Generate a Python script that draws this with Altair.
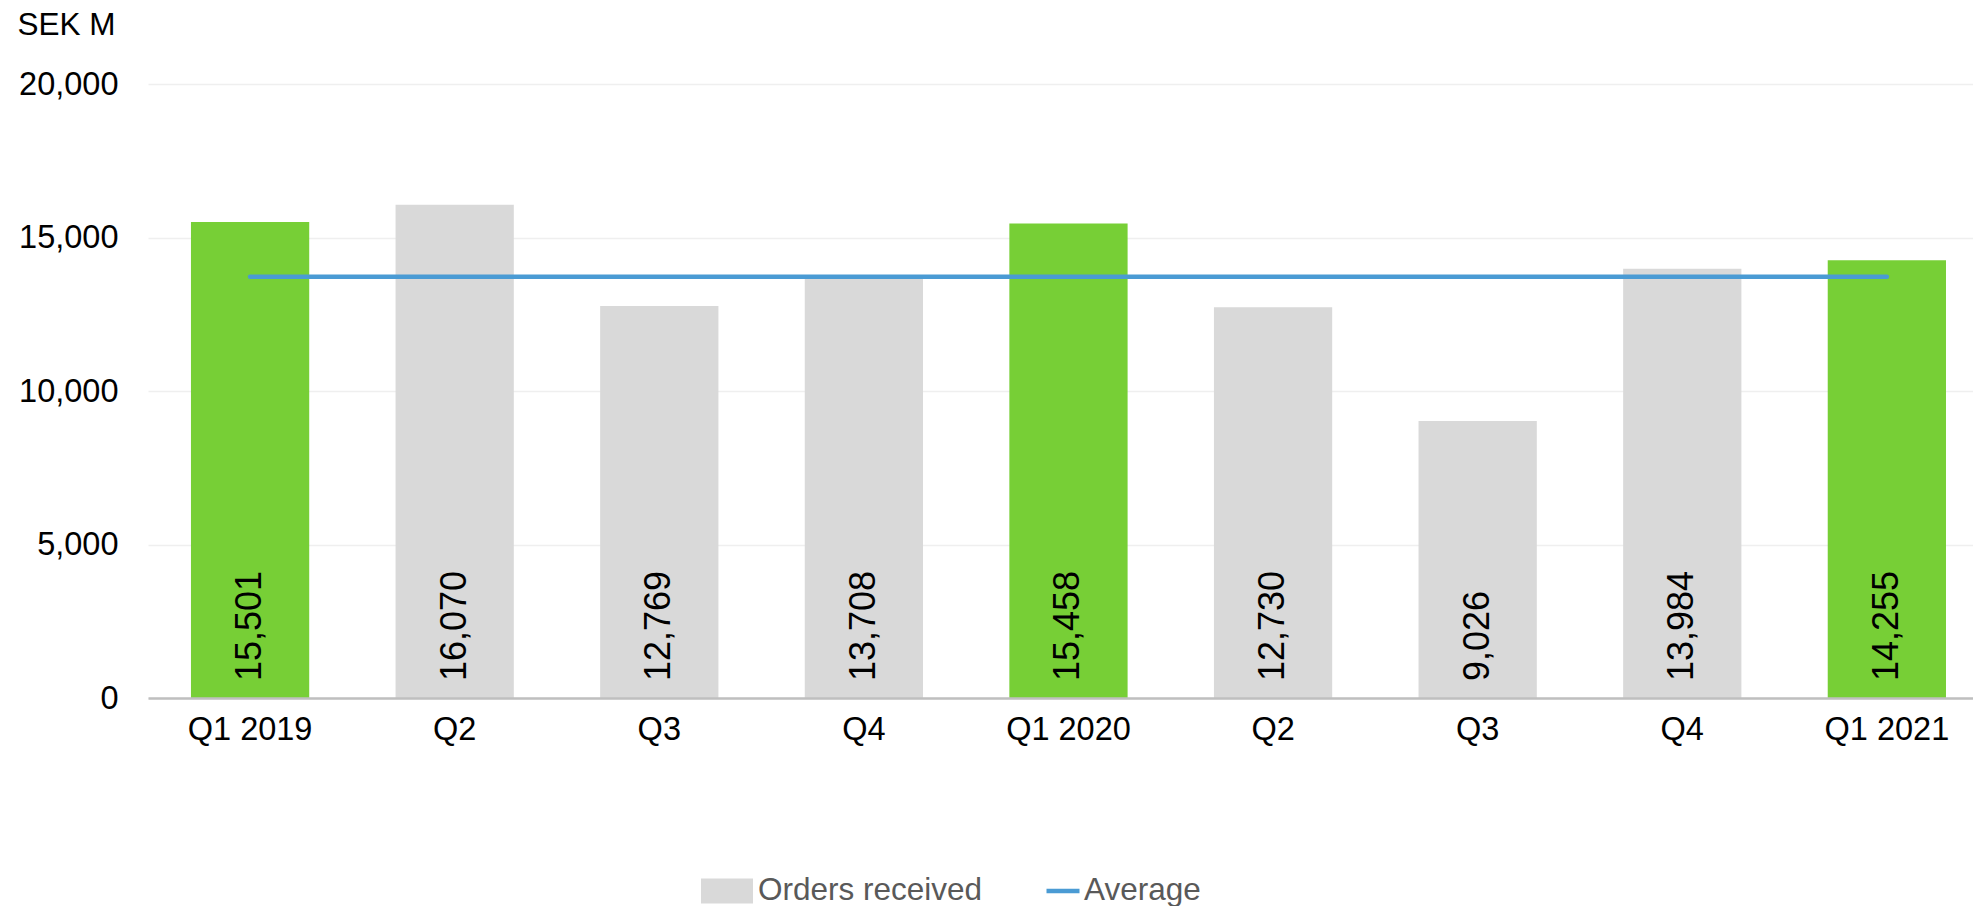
import json
import altair as alt
import pandas as pd

FONT = "Liberation Sans, Arial, sans-serif"
GREEN = "#77CF36"
GRAY = "#D9D9D9"
BLUE = "#4A9BD4"

quarter_labels = ["Q1 2019", "Q2", "Q3", "Q4", "Q1 2020", "Q2", "Q3", "Q4", "Q1 2021"]
orders = [15501, 16070, 12769, 13708, 15458, 12730, 9026, 13984, 14255]
is_q1 = [True, False, False, False, True, False, False, False, True]
y_ticks = [0, 5000, 10000, 15000, 20000]

df = pd.DataFrame({
    "idx": list(range(len(orders))),
    "orders": orders,
    "q1": is_q1,
    "series": ["Orders received"] * len(orders),
})

label_expr = json.dumps(quarter_labels) + "[datum.value]"

x_enc = alt.X(
    "idx:O",
    scale=alt.Scale(paddingInner=0.422, paddingOuter=0.171, align=0.614),
    axis=alt.Axis(
        title=None, labelExpr=label_expr, labelAngle=0, ticks=False, tickSize=0,
        labelPadding=15, labelFontSize=32.5, labelFont=FONT, labelColor="#000000",
        domainColor="#BFBFBF", domainWidth=2.5, grid=False, zindex=1,
    ),
)

y_axis = alt.Axis(
    values=y_ticks, format=",", labelExpr="format(datum.value, ',')",
    title="SEK M", titleAngle=0, titleX=-131, titleY=-50,
    titleAlign="left", titleBaseline="alphabetic", titleFontSize=31.5, titleFont=FONT,
    titleFontWeight="normal", titleColor="#000000",
    labelFontSize=32.5, labelFont=FONT, labelColor="#000000", labelPadding=30,
    domain=False, ticks=False, tickSize=0, grid=True, gridColor="#EFEFEF", gridWidth=1.5,
)
y_scale = alt.Scale(domain=[0, 20000], nice=False)

bars = alt.Chart(df).mark_bar().encode(
    x=x_enc,
    y=alt.Y("orders:Q", scale=y_scale, axis=y_axis),
    fill=alt.condition(
        "datum.q1",
        alt.value(GREEN),
        alt.Fill(
            "series:N",
            scale=alt.Scale(domain=["Orders received"], range=[GRAY]),
            legend=alt.Legend(
                title=None, orient="none", legendX=553, legendY=781,
                symbolType="M-1,-0.48H1V0.48H-1Z", symbolSize=2704,
                symbolStrokeWidth=0, symbolOpacity=1, labelLimit=500,
                labelFontSize=31.5, labelFont=FONT, labelColor="#595959", labelOffset=5,
            ),
        ),
    ),
)

labels = alt.Chart(df).mark_text(
    angle=270, align="left", baseline="middle", dx=17,
    fontSize=36, font=FONT, color="#000000",
).encode(
    x=alt.X("idx:O"),
    y=alt.YDatum(datum=0, scale=y_scale, axis=y_axis),
    text=alt.Text("orders:Q", format=","),
)

avg_line = alt.Chart(df).transform_joinaggregate(
    avg="mean(orders)"
).transform_calculate(
    avg_series="'Average'"
).mark_line(strokeWidth=4.5, strokeCap="round").encode(
    x=alt.X("idx:O"),
    y=alt.Y("avg:Q", scale=y_scale, axis=y_axis),
    stroke=alt.Stroke(
        "avg_series:N",
        scale=alt.Scale(domain=["Average"], range=[BLUE]),
        legend=alt.Legend(
            title=None, orient="none", legendX=896, legendY=788,
            symbolType="stroke", symbolSize=1089, symbolStrokeWidth=4.5,
            labelLimit=500,
            labelFontSize=31.5, labelFont=FONT, labelColor="#595959", labelOffset=2,
        ),
    ),
)

chart = alt.layer(bars, labels, avg_line).properties(
    width=1825,
    height=614,
    autosize=alt.AutoSizeParams(type="none"),
    padding={"left": 148, "top": 84, "right": 0, "bottom": 208},
    background="white",
).configure_view(stroke=None)

chart.save("out.html", embed_options={"renderer": "svg", "actions": False})
